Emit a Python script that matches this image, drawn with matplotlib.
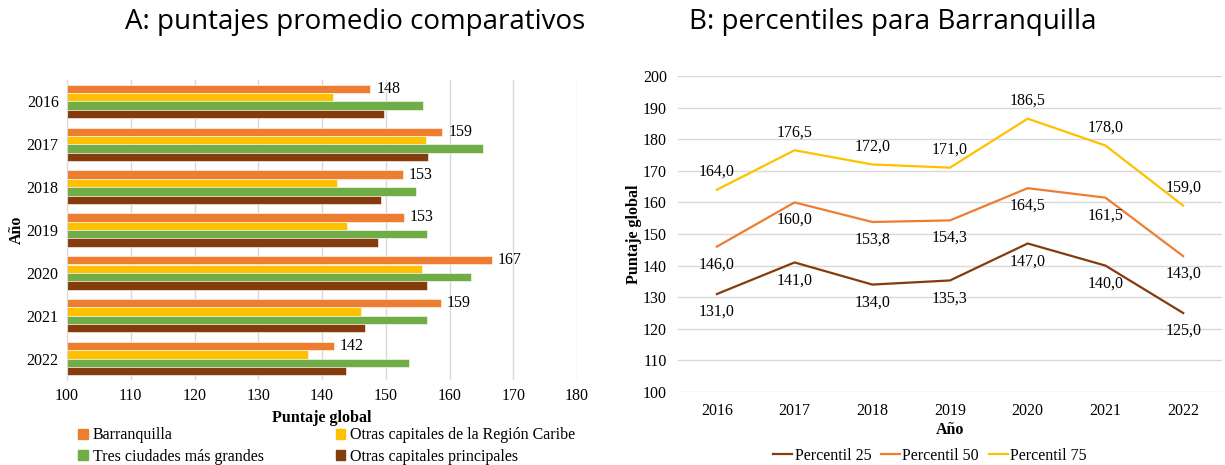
import numpy as np
import matplotlib
matplotlib.use("Agg")
from matplotlib import pyplot as plt
from matplotlib.patches import Patch
from matplotlib.lines import Line2D

plt.rcParams['font.family'] = ['Liberation Serif', 'DejaVu Serif']

years = ['2016', '2017', '2018', '2019', '2020', '2021', '2022']

# panel A
barranquilla = [147.6, 158.9, 152.7, 152.9, 166.6, 158.6, 141.9]
otras_caribe = [141.8, 156.3, 142.3, 143.9, 155.7, 146.1, 137.8]
tres_ciudades = [155.8, 165.2, 154.7, 156.4, 163.4, 156.4, 153.6]
otras_principales = [149.7, 156.7, 149.2, 148.8, 156.4, 146.7, 143.7]
series_a = ['Barranquilla', 'Otras capitales de la Región Caribe',
            'Tres ciudades más grandes', 'Otras capitales principales']

# panel B
p25 = [131.0, 141.0, 134.0, 135.3, 147.0, 140.0, 125.0]
p50 = [146.0, 160.0, 153.8, 154.3, 164.5, 161.5, 143.0]
p75 = [164.0, 176.5, 172.0, 171.0, 186.5, 178.0, 159.0]

c_orange = '#ED7D31'
c_yellow = '#FFC000'
c_green = '#70AD47'
c_brown = '#843C0C'
grid_c = '#D9D9D9'

W, H = 1225, 465
fig = plt.figure(figsize=(W / 100, H / 100), dpi=100)


def box(l, t, r, b):
    return [l / W, 1 - b / H, (r - l) / W, (b - t) / H]


# ---- A ----
ax = fig.add_axes(box(67, 80, 577, 380))
y = np.arange(len(years))
h = 0.195
vals = [barranquilla, otras_caribe, tres_ciudades, otras_principales]
cols = [c_orange, c_yellow, c_green, c_brown]
for i, (v, c) in enumerate(zip(vals, cols)):
    ax.barh(y + (i - 1.5) * h, np.array(v) - 100, left=100, height=h,
            color=c, edgecolor='white', linewidth=0.4)
for yi, v in zip(y, barranquilla):
    ax.text(v + 0.9, yi - 1.5 * h, '%d' % round(v), va='center', ha='left', fontsize=11.5)
ax.set_xlim(100, 180)
ax.set_ylim(6.5, -0.5)
ax.set_yticks(y)
ax.set_yticklabels(years)
ax.set_xticks(range(100, 181, 10))
ax.xaxis.grid(True, color=grid_c, linewidth=1)
ax.set_axisbelow(True)
for s in ['top', 'right', 'bottom']:
    ax.spines[s].set_visible(False)
ax.spines['left'].set_color(grid_c)
ax.tick_params(length=0, labelsize=11.5, pad=6)
ax.set_xlabel('Puntaje global', fontweight='bold', fontsize=11.5, labelpad=4)
ax.set_ylabel('Año', fontweight='bold', fontsize=11.5, labelpad=1)
handles = [Patch(color=c, label=l) for c, l in zip(cols, series_a)]
leg = fig.legend(handles=[handles[0], handles[2], handles[1], handles[3]], ncol=2,
                 loc='center left', bbox_to_anchor=(64 / W, 1 - 446 / H), frameon=False,
                 fontsize=11.5, handlelength=0.6, handleheight=0.6, handletextpad=0.3,
                 columnspacing=4.5, labelspacing=0.35)
fig.text(355 / W, 1 - 22 / H, 'A: puntajes promedio comparativos', ha='center', va='center',
         fontsize=20, family=['Open Sans', 'DejaVu Sans'])

# ---- B ----
bx = fig.add_axes(box(678, 76, 1222, 392))
x = np.arange(len(years))
bx.plot(x, p25, color=c_brown, linewidth=1.6)
bx.plot(x, p50, color=c_orange, linewidth=1.6)
bx.plot(x, p75, color=c_yellow, linewidth=1.6)
for xi, v in zip(x, p75):
    bx.annotate(('%.1f' % v).replace('.', ','), (xi, v), xytext=(0, 7),
                textcoords='offset points', ha='center', va='bottom', fontsize=11.5)
for xi, v in zip(x, p50):
    bx.annotate(('%.1f' % v).replace('.', ','), (xi, v), xytext=(0, -7),
                textcoords='offset points', ha='center', va='top', fontsize=11.5)
for xi, v in zip(x, p25):
    bx.annotate(('%.1f' % v).replace('.', ','), (xi, v), xytext=(0, -7),
                textcoords='offset points', ha='center', va='top', fontsize=11.5)
bx.set_xlim(-0.5, 6.5)
bx.set_ylim(100, 200)
bx.set_xticks(x)
bx.set_xticklabels(years)
bx.set_yticks(range(100, 201, 10))
bx.yaxis.grid(True, color=grid_c, linewidth=1)
bx.set_axisbelow(True)
for s in bx.spines.values():
    s.set_visible(False)
bx.tick_params(length=0, labelsize=11.5, pad=8)
bx.set_xlabel('Año', fontweight='bold', fontsize=11.5, labelpad=2)
bx.set_ylabel('Puntaje global', fontweight='bold', fontsize=11.5, labelpad=1)
lh = [Line2D([], [], color=c, linewidth=1.6, label=l)
      for c, l in zip([c_brown, c_orange, c_yellow], ['Percentil 25', 'Percentil 50', 'Percentil 75'])]
fig.legend(handles=lh, ncol=3, loc='center', bbox_to_anchor=(930 / W, 1 - 456 / H),
           frameon=False, fontsize=11.5, handlelength=1.2, handletextpad=0.15, columnspacing=0.6)
fig.text(893 / W, 1 - 22 / H, 'B: percentiles para Barranquilla', ha='center', va='center',
         fontsize=20, family=['Open Sans', 'DejaVu Sans'])

fig.savefig('out.png', dpi=100)
